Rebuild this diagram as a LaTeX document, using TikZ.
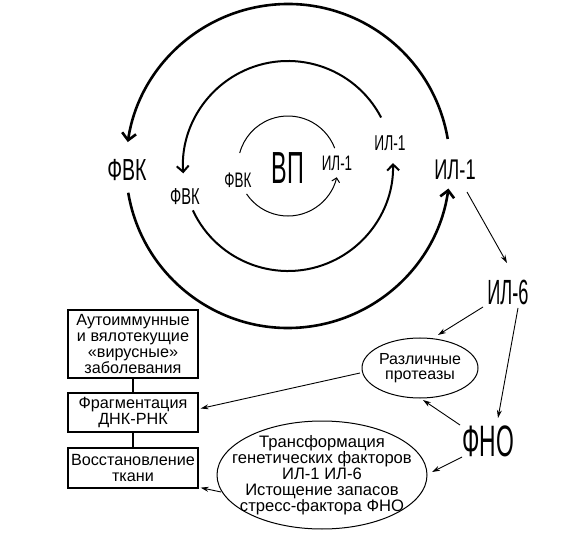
\documentclass[tikz,border=0pt]{standalone}
\usepackage{fontspec}
\setmainfont{Liberation Sans}
\newfontfamily\condf[FakeStretch=0.64]{Liberation Sans}
\newfontfamily\condg[FakeStretch=0.52]{Liberation Sans}
\usetikzlibrary{arrows.meta,calc,shapes.geometric}
\begin{document}
\begin{tikzpicture}[x=1pt,y=1pt,
  lbl/.style={inner sep=0pt},
  boxn/.style={draw,line width=1.3pt,minimum width=130pt,align=center,inner sep=1pt,font=\fontsize{16.2}{15.8}\selectfont},
  etext/.style={inner sep=0pt,align=center,font=\fontsize{16}{15.5}\selectfont},
  thinarr/.style={line width=0.9pt,-{Stealth[length=8pt,width=5pt]}},
  outerarc/.style={line width=2.6pt,-{Straight Barb[length=7pt,width=14pt]}},
  midarc/.style={line width=2pt,-{Straight Barb[length=6pt,width=12pt]}},
  innerarc/.style={line width=1pt}]
\useasboundingbox (0,0) rectangle (586,533);
\coordinate (C) at (288,367);

% circles
\draw[outerarc] ($(C)+(9.6:162)$) arc[start angle=9.6,end angle=171.5,radius=162];
\draw[outerarc] ($(C)+(189.5:162)$) arc[start angle=189.5,end angle=352,radius=162];
\draw[midarc] ($(C)+(27.5:105)$) arc[start angle=27.5,end angle=184,radius=105];
\draw[midarc] ($(C)+(205:105)$) arc[start angle=205,end angle=361.6,radius=105];
\draw[innerarc] ($(C)+(21:50)$) arc[start angle=21,end angle=165,radius=50];
\draw[innerarc,-{Straight Barb[length=4pt,width=8pt]}] ($(C)+(214:50)$) arc[start angle=214,end angle=347,radius=50];

% circle labels
\node[lbl,font=\condf\fontsize{30.5}{30}\selectfont] (fvko) at (127,363) {ФВК};
\node[lbl,font=\condf\fontsize{28.5}{28}\selectfont] (il1o) at (455,363) {ИЛ-1};
\node[lbl,font=\condf\fontsize{23}{23}\selectfont] (fvkm) at (185,336) {ФВК};
\node[lbl,font=\condf\fontsize{21.5}{21}\selectfont] (il1m) at (390,390) {ИЛ-1};
\node[lbl,font=\condf\fontsize{21}{21}\selectfont] (fvki) at (238,353) {ФВК};
\node[lbl,font=\condg\fontsize{45}{44}\selectfont] (vp) at (288,365) {ВП};
\node[lbl,font=\condf\fontsize{21}{21}\selectfont] (il1i) at (337,370) {ИЛ-1};

% right side
\node[lbl,font=\condg\fontsize{35}{35}\selectfont] (il6) at (508,241) {ИЛ-6};
\node[lbl,font=\condg\fontsize{44}{44}\selectfont] (fno) at (488,92) {ФНО};
\node[etext] (prot) at (420,165) {Различные\\протеазы};
\draw[line width=1pt] (prot.center) ellipse[x radius=58,y radius=30];
\node[etext,font=\fontsize{16.6}{16}\selectfont] (big) at (322,58) {Трансформация\\генетических факторов\\ИЛ-1 ИЛ-6\\Истощение запасов\\стресс-фактора ФНО};
\draw[line width=1pt] (big.center) ellipse[x radius=105,y radius=54];

% boxes
\node[boxn,minimum height=68pt] (b1) at (133,189) {Аутоиммунные\\и вялотекущие\\«вирусные»\\заболевания};
\node[boxn,minimum height=39pt] (b2) at (133,120.5) {Фрагментация\\ДНК-РНК};
\node[boxn,minimum height=40pt] (b3) at (133,65) {Восстановление\\ткани};
\draw[line width=1.3pt] (b1.south) -- (b2.north);
\draw[line width=1.3pt] (b2.south) -- (b3.north);

% thin arrows
\draw[thinarr] ($(il1o)+(12,-22)$) -- ($(il6)+(-1,29)$);
\draw[thinarr] ($(il6)+(-25,-15)$) -- ($(prot)+(18,33)$);
\draw[thinarr] ($(il6)+(10,-16)$) -- ($(fno)+(10,23)$);
\draw[thinarr] ($(fno)+(-28,16)$) -- ($(prot)+(3,-32)$);
\draw[thinarr] ($(fno)+(-26,-16)$) -- ($(big)+(110,3)$);
\draw[thinarr] ($(prot)+(-60,-5)$) -- ($(b2.east)+(2,4)$);
\draw[thinarr] ($(big)+(-101,-17)$) -- ($(b3.south east)+(2,1)$);
\end{tikzpicture}
\end{document}
